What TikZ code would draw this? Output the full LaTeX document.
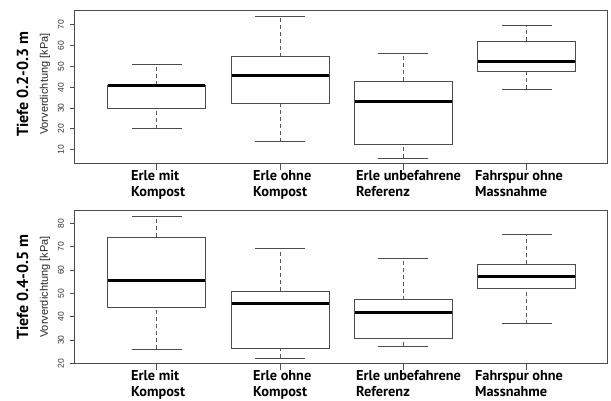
\documentclass[tikz,border=0pt]{standalone}
\usepackage{fontspec}
\setmainfont{Liberation Sans}
\newfontfamily\catfont{PT Sans}

\tikzset{
  frame/.style={draw=black!70, line width=0.9pt},
  boxbody/.style={draw=black!70, line width=0.9pt, fill=white},
  median/.style={draw=black, line width=3pt},
  whisker/.style={draw=black!65, line width=0.8pt, dash pattern=on 4pt off 3pt},
  whiskercap/.style={draw=black!70, line width=0.9pt},
  catlabel/.style={font=\catfont\bfseries\fontsize{14.3}{16.3}\selectfont, align=left, anchor=north west, inner sep=0pt},
  ticklabel/.style={font=\fontsize{8.5}{9}\selectfont, rotate=90, inner sep=0pt, text=black!80},
  ytitle/.style={font=\fontsize{11}{12}\selectfont, rotate=90, inner sep=0pt, text=black!85},
  paneltitle/.style={font=\catfont\bfseries\fontsize{16}{18}\selectfont, rotate=90, inner sep=0pt}
}

\begin{document}
\begin{tikzpicture}[x=1pt, y=-1pt]
\useasboundingbox (0,0) rectangle (611,401);

% oben: Tiefe 0.2-0.3 m
\begin{scope}[shift={(0,170.5)}, y=2.08pt]
\draw[frame] (74,3.3) rectangle (607,77);
\foreach \v in {10,20,...,70} {
  \draw[frame] (74,\v) -- (70,\v);
  \node[ticklabel] (ta\v) at (61,\v) {\v};
}
\foreach \x/\lo/\qa/\me/\qb/\hi in {156.7/20/30/41/41/51, 280/13.8/32.3/45.6/54.7/74.3,
    403.3/6/12.7/33/43/56.3, 526.7/39.2/47.8/52.6/62.1/69.5} {
  \draw[whisker] (\x,\lo) -- (\x,\qa) (\x,\qb) -- (\x,\hi);
  \draw[whiskercap] (\x-25,\lo) -- (\x+25,\lo) (\x-25,\hi) -- (\x+25,\hi);
  \draw[boxbody] (\x-49,\qa) rectangle (\x+49,\qb);
  \draw[median] (\x-48.5,\me) -- (\x+48.5,\me);
  \draw[frame] (\x,3.3) -- ++(0,-6pt);
}
\node[ytitle] (ya) at (45,41.5) {Vorverdichtung [kPa]};
\node[paneltitle] (pa) at (22.5,41.5) {Tiefe 0.2-0.3 m};
\end{scope}

\node[catlabel] (ca1) at (131,170) {Erle mit\\Kompost};
\node[catlabel] (ca2) at (253,170) {Erle ohne\\Kompost};
\node[catlabel] (ca3) at (356,170) {Erle unbefahrene\\Referenz};
\node[catlabel] (ca4) at (475,170) {Fahrspur ohne\\Massnahme};

% unten: Tiefe 0.4-0.5 m
\begin{scope}[shift={(0,410)}, y=2.333pt]
\draw[frame] (74,19.9) rectangle (607,85.5);
\foreach \v in {20,30,...,80} {
  \draw[frame] (74,\v) -- (70,\v);
  \node[ticklabel] (tb\v) at (61,\v) {\v};
}
\foreach \x/\lo/\qa/\me/\qb/\hi in {156.7/26/44/55.3/74/83, 280/22.3/26.3/45.5/51/69.3,
    403.3/27.4/30.8/42/47.3/65, 526.7/37/52.1/57.3/62.4/75.3} {
  \draw[whisker] (\x,\lo) -- (\x,\qa) (\x,\qb) -- (\x,\hi);
  \draw[whiskercap] (\x-25,\lo) -- (\x+25,\lo) (\x-25,\hi) -- (\x+25,\hi);
  \draw[boxbody] (\x-49,\qa) rectangle (\x+49,\qb);
  \draw[median] (\x-48.5,\me) -- (\x+48.5,\me);
  \draw[frame] (\x,19.9) -- ++(0,-6pt);
}
\node[ytitle] (yb) at (45,52.7) {Vorverdichtung [kPa]};
\node[paneltitle] (pb) at (22.5,52.7) {Tiefe 0.4-0.5 m};
\end{scope}

\node[catlabel] (cb1) at (131,370) {Erle mit\\Kompost};
\node[catlabel] (cb2) at (253,370) {Erle ohne\\Kompost};
\node[catlabel] (cb3) at (356,370) {Erle unbefahrene\\Referenz};
\node[catlabel] (cb4) at (475,370) {Fahrspur ohne\\Massnahme};
\end{tikzpicture}
\end{document}
